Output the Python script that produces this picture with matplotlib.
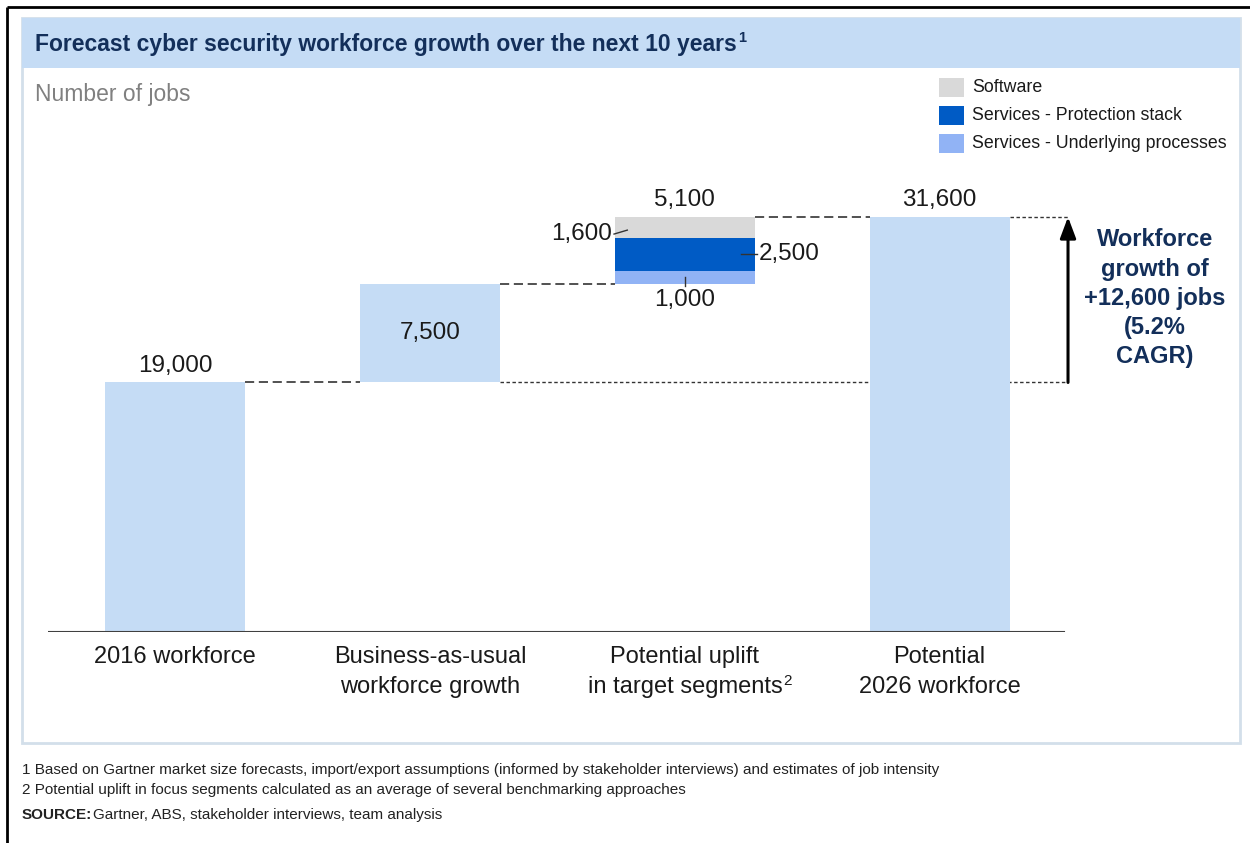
import matplotlib
matplotlib.use("Agg")
import matplotlib.pyplot as plt
from matplotlib.patches import Rectangle

plt.rcParams['font.family'] = ['Liberation Sans', 'DejaVu Sans']

# waterfall data (number of jobs)
categories = ["2016 workforce", "Business-as-usual\nworkforce growth",
              "Potential uplift\nin target segments", "Potential\n2026 workforce"]
base_2016 = 19000
bau_growth = 7500
uplift_names = ["Services - Underlying processes", "Services - Protection stack", "Software"]
uplift_values = [1000, 2500, 1600]
total_2026 = 31600
growth_text = "Workforce\ngrowth of\n+12,600 jobs\n(5.2%\nCAGR)"

light_blue = "#c5dcf5"
seg_colors = ["#91b3f5", "#005bc5", "#d9d9d9"]
navy = "#132f5a"
ink = "#1a1a1a"
W, H = 1250, 843

fig = plt.figure(figsize=(W / 100, H / 100), dpi=100)

# frame, title band and notes drawn in pixel units
bg = fig.add_axes([0, 0, 1, 1])
bg.set_xlim(0, W)
bg.set_ylim(H, 0)
bg.axis("off")
bg.plot([7, W], [7, 7], color="black", lw=2, solid_capstyle="butt")
bg.plot([7, 7], [7, H], color="black", lw=2, solid_capstyle="butt")
bg.add_patch(Rectangle((22, 18), 1218, 725, facecolor="white", edgecolor="#d3dfea", lw=2))
bg.add_patch(Rectangle((22, 18), 1218, 50, facecolor=light_blue, edgecolor="none"))
title = bg.text(35, 44, "Forecast cyber security workforce growth over the next 10 years",
                fontsize=16.5, fontweight="bold", color=navy, va="center")
bg.text(35, 94, "Number of jobs", fontsize=16.5, color="#808080", va="center")

# legend
legend_order = [2, 1, 0]
for row, i in enumerate(legend_order):
    y = 87 + row * 28
    bg.add_patch(Rectangle((939, y - 9.5), 25, 19, facecolor=seg_colors[i], edgecolor="none"))
    bg.text(972, y, uplift_names[i], fontsize=12.8, color=ink, va="center")

foot = [
    "1 Based on Gartner market size forecasts, import/export assumptions (informed by stakeholder interviews) and estimates of job intensity",
    "2 Potential uplift in focus segments calculated as an average of several benchmarking approaches",
]
bg.text(22, 770, foot[0], fontsize=11, color="#222222", va="center")
bg.text(22, 790, foot[1], fontsize=11, color="#222222", va="center")
src = bg.text(22, 815, "SOURCE:", fontsize=11, fontweight="bold", color="#222222", va="center")

# chart area
ax = fig.add_axes([48 / W, (H - 632) / H, 1019 / W, 482 / H])
ax.patch.set_alpha(0)
ax.axis("off")
ax.set_xlim(-0.5, 3.5)
ax.set_ylim(0, 36700)

bw = 0.55
x = [0, 1, 2, 3]
level_bau = base_2016 + bau_growth
uplift_total = sum(uplift_values)

ax.bar(x[0], base_2016, bw, color=light_blue, zorder=2)
ax.bar(x[1], bau_growth, bw, bottom=base_2016, color=light_blue, zorder=2)
bottom = level_bau
for v, c in zip(uplift_values, seg_colors):
    ax.bar(x[2], v, bw, bottom=bottom, color=c, zorder=2)
    bottom += v
ax.bar(x[3], total_2026, bw, color=light_blue, zorder=2)

ax.plot([-0.5, 3.49], [0, 0], color="#404040", lw=1.5, zorder=3)

# connectors
dash = dict(color="#333333", lw=1.2, dashes=(5.5, 2.8), zorder=1)
ax.plot([x[0] + bw / 2, x[1] - bw / 2], [base_2016] * 2, **dash)
ax.plot([x[1] + bw / 2, x[2] - bw / 2], [level_bau] * 2, **dash)
ax.plot([x[2] + bw / 2, x[3] - bw / 2], [total_2026] * 2, **dash)
arrow_x = x[3] + 0.504
dot = dict(color="#333333", lw=1.0, dashes=(2.5, 1.8), zorder=1, clip_on=False)
ax.plot([x[1] + bw / 2, arrow_x], [base_2016] * 2, **dot)
ax.plot([x[3] + bw / 2, arrow_x], [total_2026] * 2, **dot)
ax.annotate("", xy=(arrow_x, total_2026), xytext=(arrow_x, base_2016),
            arrowprops=dict(arrowstyle="-|>,head_width=0.3,head_length=0.8", color="black",
                            lw=2.2, mutation_scale=16, shrinkA=0, shrinkB=0),
            zorder=4, annotation_clip=False)
ax.text(arrow_x + 0.341, (total_2026 + base_2016) / 2 + 120, growth_text, fontsize=17,
        fontweight="bold", color=navy, ha="center", va="center", linespacing=1.34)

# value labels
lab = dict(fontsize=17.5, color=ink, ha="center", va="center")
ax.text(x[0], base_2016 + 1250, f"{base_2016:,}", **lab)
ax.text(x[1], base_2016 + bau_growth / 2, f"{bau_growth:,}", **lab)
ax.text(x[2], level_bau + uplift_total + 1300, f"{uplift_total:,}", **lab)
ax.text(x[3], total_2026 + 1300, f"{total_2026:,}", **lab)

# segment labels with short leaders
y_sw = level_bau + uplift_values[0] + uplift_values[1]
ax.plot([x[2] - 0.278, x[2] - 0.226], [y_sw + 300, y_sw + 600], color="#333333", lw=1)
ax.text(x[2] - 0.285, y_sw + 300, f"{uplift_values[2]:,}", ha="right", va="center",
        fontsize=17.5, color=ink)
y_ps = level_bau + uplift_values[0] + uplift_values[1] / 2
ax.plot([x[2] + 0.22, x[2] + 0.285], [y_ps, y_ps], color="#333333", lw=1)
ax.text(x[2] + 0.29, y_ps, f"{uplift_values[1]:,}", ha="left", va="center", fontsize=17.5,
        color=ink)
ax.plot([x[2], x[2]], [level_bau - 150, level_bau + 500], color="#333333", lw=1)
ax.text(x[2], level_bau - 1250, f"{uplift_values[0]:,}", ha="center", va="center",
        fontsize=17.5, color=ink)

# category labels
cat_labels = []
for xi, name in zip(x, categories):
    t = ax.text(xi, -1100, name, ha="center", va="top", fontsize=17, color=ink,
                linespacing=1.45)
    cat_labels.append(t)

# superscript footnote markers placed after the rendered text
fig.canvas.draw()
r = fig.canvas.get_renderer()
inv = bg.transData.inverted()

ext = title.get_window_extent(r)
x1, _ = inv.transform((ext.x1, ext.y1))
bg.text(x1 + 1, 38, "1", fontsize=10.5, fontweight="bold", color=navy, va="center")

ext = src.get_window_extent(r)
x1, _ = inv.transform((ext.x1, ext.y1))
bg.text(x1 + 1, 815, "Gartner, ABS, stakeholder interviews, team analysis", fontsize=11,
        color="#222222", va="center")

ext = cat_labels[2].get_window_extent(r)
x1, y_bot = inv.transform((ext.x1, ext.y0))
bg.text(x1 + 1, y_bot - 17, "2", fontsize=11, color=ink, va="center")

fig.savefig("out.png", dpi=100)
